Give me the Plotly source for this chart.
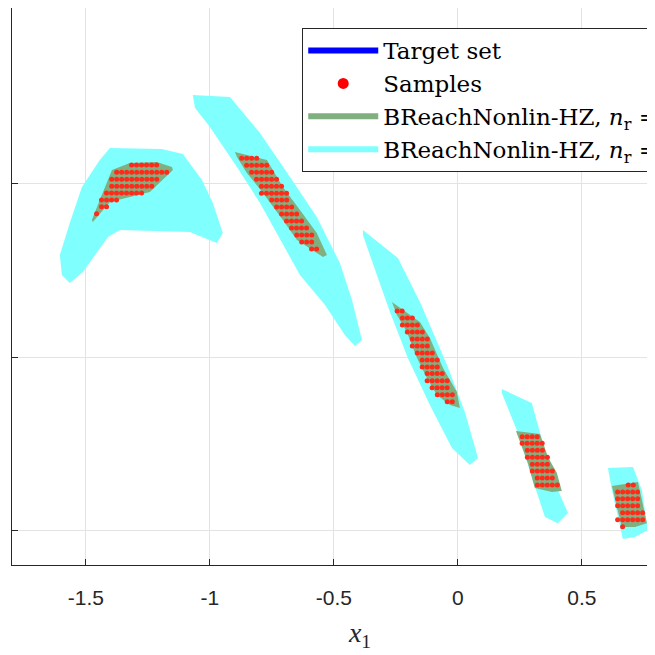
import plotly.graph_objects as go

# outer reachable sets (cyan), one polygon per time step
outer_x = [
    [-1.403, -1.194, -1.109, -1.032, -0.988, -0.948, -0.972, -1.081, -1.363, -1.411, -1.512, -1.565, -1.597, -1.605, -1.565, -1.516, -1.444],
    [-1.069, -0.919, -0.798, -0.677, -0.569, -0.476, -0.427, -0.387, -0.415, -0.456, -0.536, -0.637, -0.798, -0.891, -1.000, -1.060],
    [-0.383, -0.242, -0.153, -0.044, 0.028, 0.081, 0.048, -0.024, -0.113, -0.202, -0.274, -0.355, -0.383],
    [0.177, 0.298, 0.339, 0.403, 0.444, 0.403, 0.351, 0.298, 0.242, 0.177],
    [0.605, 0.706, 0.742, 0.766, 0.714, 0.665, 0.657, 0.621],
]
outer_y = [
    [1.208, 1.202, 1.173, 1.023, 0.890, 0.717, 0.659, 0.723, 0.734, 0.694, 0.491, 0.428, 0.474, 0.590, 0.775, 0.983, 1.139],
    [1.514, 1.503, 1.295, 1.040, 0.809, 0.543, 0.329, 0.098, 0.064, 0.127, 0.301, 0.474, 0.890, 1.098, 1.329, 1.439],
    [0.734, 0.572, 0.318, -0.046, -0.318, -0.584, -0.624, -0.526, -0.277, -0.006, 0.260, 0.590, 0.705],
    [-0.185, -0.266, -0.480, -0.769, -0.902, -0.960, -0.925, -0.694, -0.439, -0.208],
    [-0.642, -0.636, -0.769, -1.000, -1.040, -1.052, -1.000, -0.769],
]

# inner reachable sets (green)
inner_x = [
    [-1.395, -1.323, -1.214, -1.153, -1.149, -1.242, -1.323, -1.403, -1.472, -1.476, -1.444],
    [-0.899, -0.770, -0.706, -0.637, -0.569, -0.528, -0.544, -0.649, -0.706, -0.786, -0.851, -0.891],
    [-0.266, -0.153, -0.113, -0.060, -0.004, 0.008, -0.032, -0.085, -0.125, -0.165, -0.206, -0.246],
    [0.234, 0.331, 0.363, 0.399, 0.419, 0.379, 0.310, 0.282, 0.258],
    [0.621, 0.726, 0.742, 0.762, 0.714, 0.661, 0.641],
]
inner_y = [
    [1.081, 1.121, 1.127, 1.098, 1.081, 0.954, 0.925, 0.896, 0.780, 0.792, 0.908],
    [1.185, 1.139, 0.983, 0.850, 0.717, 0.590, 0.578, 0.676, 0.792, 0.948, 1.064, 1.156],
    [0.318, 0.202, 0.110, -0.064, -0.202, -0.295, -0.277, -0.220, -0.121, -0.006, 0.145, 0.243],
    [-0.428, -0.445, -0.578, -0.671, -0.775, -0.780, -0.757, -0.613, -0.520],
    [-0.746, -0.723, -0.827, -0.960, -0.983, -0.983, -0.867],
]

# sample rows: (y, first x, number of samples), spaced SAMPLE_DX apart
SAMPLE_DX = 0.0202
sample_rows = [
    (1.110, -1.316, 6), (1.068, -1.376, 11), (1.027, -1.396, 10), (0.987, -1.396, 9),
    (0.948, -1.417, 8), (0.908, -1.437, 4), (0.869, -1.437, 2), (0.828, -1.457, 1),
    (1.148, -0.872, 4), (1.108, -0.852, 5), (1.068, -0.832, 5), (1.027, -0.812, 5),
    (0.987, -0.792, 5), (0.946, -0.792, 6), (0.908, -0.751, 4), (0.867, -0.731, 4),
    (0.827, -0.711, 4), (0.786, -0.691, 4), (0.746, -0.671, 4), (0.705, -0.650, 4),
    (0.665, -0.630, 3), (0.624, -0.590, 2),
    (0.266, -0.245, 2), (0.225, -0.224, 3), (0.185, -0.224, 4), (0.145, -0.204, 4),
    (0.104, -0.184, 4), (0.064, -0.184, 4), (0.023, -0.164, 4), (-0.017, -0.144, 4),
    (-0.058, -0.144, 4), (-0.096, -0.124, 4), (-0.137, -0.124, 5), (-0.177, -0.104, 4),
    (-0.218, -0.083, 4), (-0.258, -0.043, 2),
    (-0.461, 0.259, 4), (-0.499, 0.259, 5), (-0.539, 0.280, 4), (-0.580, 0.280, 5),
    (-0.620, 0.300, 4), (-0.659, 0.300, 5), (-0.699, 0.320, 4), (-0.740, 0.320, 5),
    (-0.740, 0.687, 2), (-0.780, 0.644, 5), (-0.819, 0.644, 5), (-0.860, 0.644, 5),
    (-0.900, 0.664, 5), (-0.940, 0.644, 6), (-0.981, 0.664, 1),
]

x_ticks = [-1.5, -1, -0.5, 0, 0.5]
x_tick_labels = ["-1.5", "-1", "-0.5", "0", "0.5"]
y_ticks = [-1, 0, 1]

sx, sy = [], []
for y, x0, n in sample_rows:
    for k in range(n):
        sx.append(x0 + k * SAMPLE_DX)
        sy.append(y)

fig = go.Figure()

# target set: legend entry only (lies outside the visible window)
fig.add_trace(go.Scatter(x=[5, 5.1, 5.1, 5], y=[5, 5, 5.1, 5.1], fill="toself", mode="none",
                         fillcolor="#0000ff", name="Target set"))
fig.add_trace(go.Scatter(x=[None], y=[None], mode="markers", marker=dict(color="red", size=11),
                         name="Samples"))
fig.add_trace(go.Scatter(x=[5, 5.1, 5.1], y=[5, 5, 5.1], fill="toself", mode="none", fillcolor="#80b080",
                         name="BReachNonlin-HZ, <i>n</i><sub>r</sub> = 1"))
fig.add_trace(go.Scatter(x=[5, 5.1, 5.1], y=[5, 5, 5.1], fill="toself", mode="none", fillcolor="#80ffff",
                         name="BReachNonlin-HZ, <i>n</i><sub>r</sub> = 2"))

for xs, ys in zip(outer_x, outer_y):
    fig.add_trace(go.Scatter(x=xs, y=ys, fill="toself", mode="none", fillcolor="#80ffff",
                             showlegend=False, hoverinfo="skip"))
for xs, ys in zip(inner_x, inner_y):
    fig.add_trace(go.Scatter(x=xs, y=ys, fill="toself", mode="none", fillcolor="#80b080",
                             showlegend=False, hoverinfo="skip"))
fig.add_trace(go.Scatter(x=sx, y=sy, mode="markers", marker=dict(color="#ff2a1a", size=5),
                         showlegend=False, hoverinfo="skip"))

fig.update_layout(
    width=700, height=655,
    margin=dict(l=4, r=0, t=0, b=98, autoexpand=False),
    plot_bgcolor="white", paper_bgcolor="white",
    xaxis=dict(range=[-1.798, -1.798 + 696 / 248], tickvals=x_ticks, ticktext=x_tick_labels, automargin=False,
               ticks="inside", ticklen=6, tickcolor="#262626", showgrid=True, gridcolor="#e3e3e3",
               showline=True, linecolor="#262626", linewidth=1, zeroline=False, ticklabelstandoff=14,
               tickfont=dict(family="Liberation Sans, Arial", size=21, color="#262626"),
               title=dict(text="<i>x</i><sub>1</sub>", font=dict(family="Liberation Serif, serif", size=28, color="#262626"),
                          standoff=14)),
    yaxis=dict(range=[-1.202, 2.017], tickvals=y_ticks, showticklabels=False, automargin=False,
               ticks="inside", ticklen=6, tickcolor="#262626", showgrid=True, gridcolor="#e3e3e3",
               showline=True, linecolor="#262626", linewidth=1, zeroline=False),
    legend=dict(x=0.417, y=0.964, xanchor="left", yanchor="top", bgcolor="white",
                bordercolor="#262626", borderwidth=1, tracegroupgap=0, itemwidth=70,
                font=dict(family="DejaVu Serif, serif", size=23, color="black")),
    showlegend=True,
)

fig.write_html("out.html")
